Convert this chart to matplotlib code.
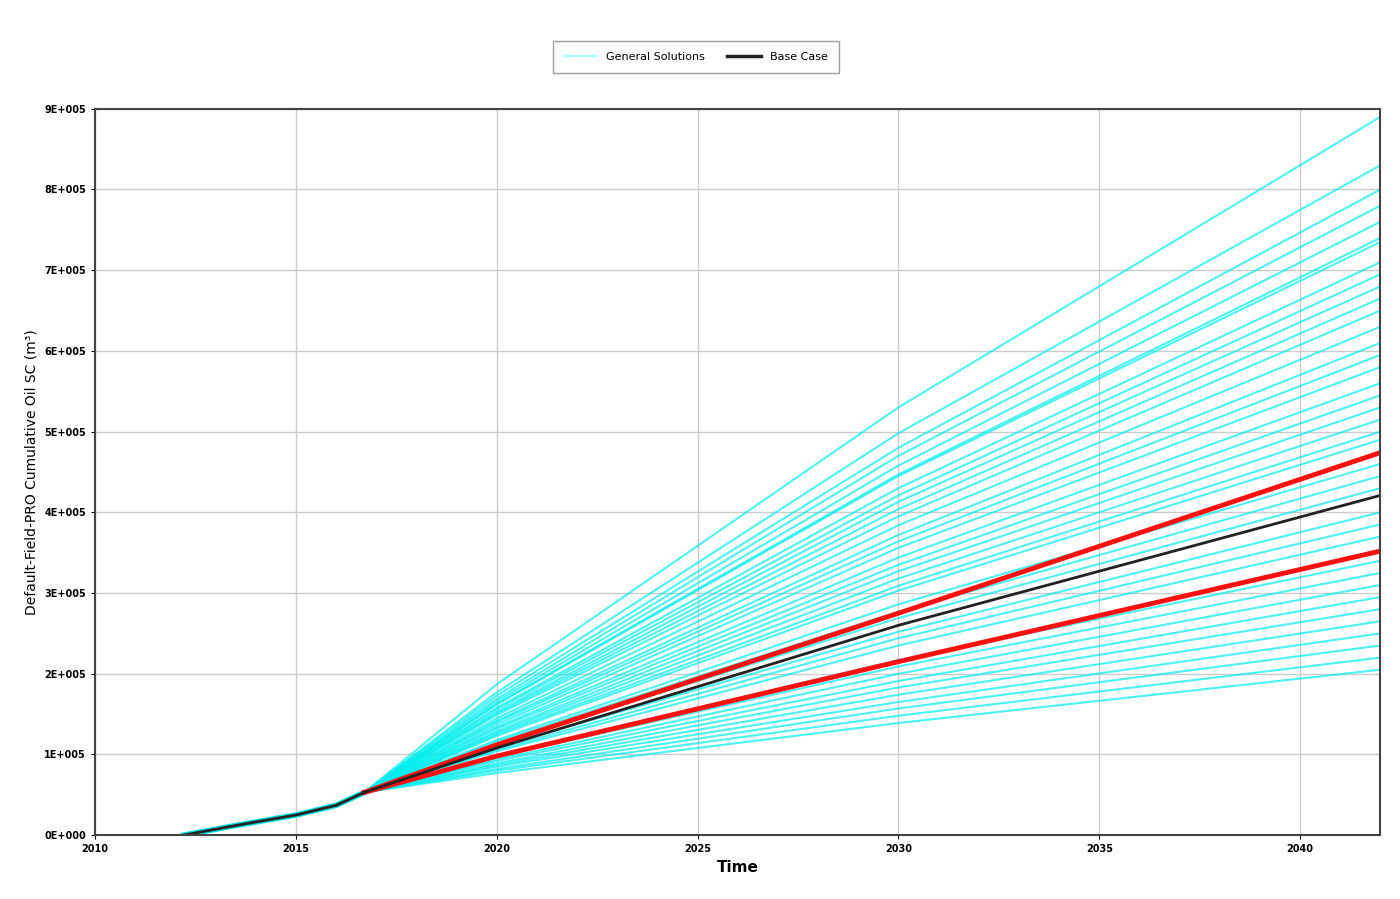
import matplotlib.pyplot as plt
from matplotlib.ticker import FuncFormatter

# history (shared by all runs), units of 1e5 m3
hist_t = [2012.2, 2013.5, 2015.0, 2016.0, 2016.7]
hist_v = [0.0, 0.12, 0.25, 0.37, 0.53]

# forecast runs: values at these times
fc_t = [2016.7, 2020.0, 2030.0, 2042.0]
gen_2020 = [1.87, 1.77, 1.73, 1.69, 1.66, 1.63, 1.62, 1.58, 1.56, 1.53, 1.51, 1.49, 1.45,
            1.42, 1.40, 1.37, 1.34, 1.32, 1.29, 1.27, 1.25, 1.23, 1.18, 1.16, 1.13, 1.09,
            1.06, 1.04, 0.99, 0.97, 0.94, 0.92, 0.89, 0.87, 0.85, 0.82, 0.80, 0.77]
gen_2030 = [5.30, 4.98, 4.80, 4.70, 4.58, 4.47, 4.45, 4.30, 4.21, 4.13, 4.04, 3.95, 3.84,
            3.72, 3.64, 3.56, 3.44, 3.35, 3.27, 3.18, 3.09, 3.03, 2.86, 2.77, 2.69, 2.52,
            2.44, 2.35, 2.17, 2.09, 2.00, 1.91, 1.83, 1.74, 1.65, 1.57, 1.48, 1.39]
gen_2042 = [8.9, 8.3, 8.0, 7.8, 7.6, 7.4, 7.35, 7.1, 6.95, 6.8, 6.65, 6.5, 6.3, 6.1, 5.95,
            5.8, 5.6, 5.45, 5.3, 5.15, 5.0, 4.9, 4.6, 4.45, 4.3, 4.0, 3.85, 3.7, 3.4, 3.25,
            3.1, 2.95, 2.8, 2.65, 2.5, 2.35, 2.2, 2.05]
base_v = [0.53, 1.08, 2.60, 4.21]
red_hi = [0.53, 1.12, 2.75, 4.74]
red_lo = [0.53, 0.98, 2.15, 3.52]

fig = plt.figure(figsize=(14, 8.99), dpi=100)
ax = fig.add_axes([0.068, 0.071, 0.918, 0.808])

for a, b, c in zip(gen_2020, gen_2030, gen_2042):
    ax.plot(fc_t, [0.53, a, b, c], color="#00eeee", lw=1.5, alpha=0.7)
ax.plot(hist_t, hist_v, color="#00dddd", lw=4)
ax.plot(fc_t, red_hi, color="#ff1010", lw=3.5)
ax.plot(fc_t, red_lo, color="#ff1010", lw=3.5)
ax.plot(fc_t, base_v, color="#222222", lw=2)
ax.plot(hist_t, hist_v, color="#222222", lw=2)

# legend proxies
ax.plot([], [], color="#aaffff", lw=1.5, label="General Solutions")
ax.plot([], [], color="#222222", lw=2.5, label="Base Case")
handles, labels = ax.get_legend_handles_labels()
fig.legend(handles[-2:], labels[-2:], loc="center", bbox_to_anchor=(0.497, 0.937),
           ncol=2, fontsize=8, frameon=True, edgecolor="#888888", fancybox=False,
           borderpad=1.0, handlelength=3)

ax.set_xlim(2010, 2042)
ax.set_ylim(0, 9)
ax.set_xticks(range(2010, 2041, 5))
ax.set_yticks(range(0, 10))
ax.yaxis.set_major_formatter(FuncFormatter(lambda v, p: "%dE+005" % v if v else "0E+000"))
ax.tick_params(labelsize=7, length=3)
for lab in ax.get_xticklabels() + ax.get_yticklabels():
    lab.set_fontweight("bold")
ax.grid(color="#cccccc", lw=1)
for s in ax.spines.values():
    s.set_linewidth(1.5)
    s.set_color("#444444")
ax.set_xlabel("Time", fontsize=11, fontweight="bold")
ax.set_ylabel("Default-Field-PRO Cumulative Oil SC (m³)", fontsize=10)

fig.savefig("out.png")
